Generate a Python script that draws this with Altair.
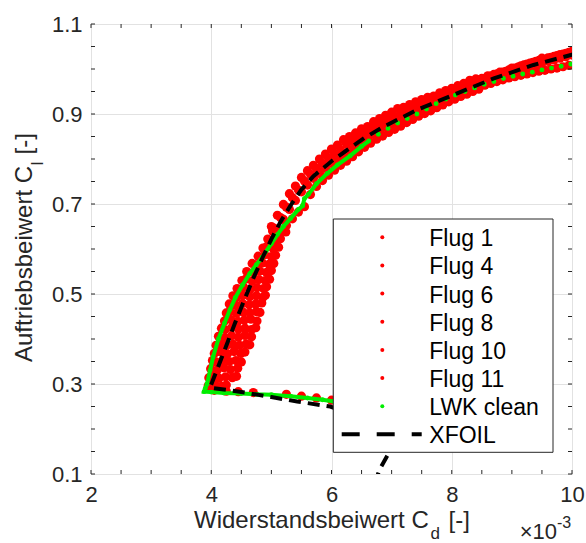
import altair as alt
import pandas as pd

# ---------------- data ----------------
x_major = [2, 4, 6, 8, 10]
y_major = [0.1, 0.3, 0.5, 0.7, 0.9, 1.1]
x_minor = [2.0, 2.5, 3.0, 3.5, 4.0, 4.5, 5.0, 5.5, 6.0, 6.5, 7.0, 7.5, 8.0, 8.5, 9.0, 9.5, 10.0]
y_minor = [0.10, 0.15, 0.20, 0.25, 0.30, 0.35, 0.40, 0.45, 0.50, 0.55, 0.60, 0.65, 0.70,
           0.75, 0.80, 0.85, 0.90, 0.95, 1.00, 1.05, 1.10]

legend_labels = ["Flug 1", "Flug 4", "Flug 6", "Flug 8", "Flug 10", "Flug 11", "LWK clean", "XFOIL"]

xfoil_cd = [10.05, 9.98, 9.36, 8.70, 8.09, 7.42, 6.87, 6.55, 6.26, 6.00, 5.70, 5.50, 5.32, 5.15, 5.00,
            4.85, 4.70, 4.55, 4.40, 4.25, 4.10, 3.98,
            4.30, 4.65, 5.00, 5.43, 5.98, 6.50, 7.05, 6.95, 6.80, 6.72]
xfoil_cl = [1.034, 1.031, 1.009, 0.979, 0.946, 0.909, 0.872, 0.847, 0.820, 0.795, 0.762, 0.732, 0.697, 0.660, 0.622,
            0.580, 0.535, 0.487, 0.437, 0.385, 0.333, 0.292,
            0.286, 0.279, 0.271, 0.261, 0.250, 0.225, 0.180, 0.146, 0.110, 0.080]

lwk_cd = [9.98, 9.82, 9.66, 9.50, 9.34, 9.18, 9.02, 8.86, 8.70, 8.54, 8.38, 8.22, 8.06, 7.90, 7.74, 7.58,
          7.42, 7.26, 7.10, 6.94, 6.78,
          6.62, 6.50, 6.31, 6.10, 5.93, 5.75, 5.62, 5.55, 5.52, 5.45, 5.32, 5.20, 5.10, 5.00, 4.85, 4.75,
          4.64, 4.52, 4.40, 4.31, 4.22, 4.12, 4.03, 3.98, 3.93, 3.90, 3.88,
          4.00, 4.21, 4.50, 4.76, 5.00, 5.32, 5.60, 5.85, 6.04, 6.30, 6.60]
lwk_cl = [1.011, 1.006, 1.002, 0.998, 0.993, 0.989, 0.984, 0.979, 0.972, 0.966, 0.958, 0.950, 0.942, 0.933,
          0.923, 0.911, 0.900, 0.890, 0.880, 0.868, 0.855,
          0.840, 0.828, 0.807, 0.787, 0.768, 0.745, 0.722, 0.712, 0.696, 0.688, 0.668, 0.650, 0.632, 0.612,
          0.582, 0.565, 0.545, 0.520, 0.492, 0.465, 0.435, 0.400, 0.360, 0.330, 0.300, 0.290, 0.283,
          0.282, 0.280, 0.279, 0.277, 0.276, 0.273, 0.269, 0.265, 0.261, 0.255, 0.248]

flug1_cd = [5.0, 5.1, 5.2, 5.3, 5.4, 5.5, 5.6, 5.7, 5.8, 5.9, 6.0, 6.1, 6.2, 6.3, 6.4, 6.5, 6.6, 6.7, 6.8,
            6.9, 7.0, 7.1, 7.2, 7.3, 7.4, 7.5, 7.6, 7.7, 7.8, 7.9, 8.0, 8.1, 8.2, 8.3, 8.4, 8.5, 8.6, 8.7,
            8.8, 8.9, 9.0, 9.1, 9.2, 9.3, 9.4, 9.5, 9.6, 9.7, 9.8, 9.9, 10.0]
flug1_cl = [0.650, 0.675, 0.699, 0.723, 0.740, 0.759, 0.774, 0.786, 0.800, 0.811, 0.822, 0.831, 0.843,
            0.850, 0.858, 0.867, 0.872, 0.883, 0.890, 0.897, 0.904, 0.912, 0.915, 0.921, 0.927, 0.932,
            0.937, 0.940, 0.947, 0.952, 0.957, 0.963, 0.968, 0.975, 0.978, 0.979, 0.985, 0.988, 0.993,
            0.995, 1.002, 1.004, 1.009, 1.013, 1.017, 1.024, 1.025, 1.028, 1.032, 1.035, 1.039]

flug4_cd = [5.05, 5.15, 5.25, 5.35, 5.45, 5.55, 5.65, 5.75, 5.85, 5.95, 6.05, 6.15, 6.25, 6.35, 6.45,
            6.55, 6.65, 6.75, 6.85, 6.95, 7.05, 7.15, 7.25, 7.35, 7.45, 7.55, 7.65, 7.75, 7.85, 7.95,
            8.05, 8.15, 8.25, 8.35, 8.45, 8.55, 8.65, 8.75, 8.85, 8.95, 9.05, 9.15, 9.25, 9.35, 9.45,
            9.55, 9.65, 9.75, 9.85, 9.95]
flug4_cl = [0.646, 0.670, 0.693, 0.714, 0.731, 0.751, 0.766, 0.779, 0.790, 0.801, 0.811, 0.820, 0.833,
            0.839, 0.848, 0.857, 0.865, 0.873, 0.881, 0.888, 0.894, 0.900, 0.907, 0.911, 0.920, 0.925,
            0.930, 0.936, 0.941, 0.946, 0.952, 0.957, 0.962, 0.968, 0.976, 0.979, 0.984, 0.989, 0.993,
            0.998, 1.002, 1.007, 1.011, 1.015, 1.019, 1.021, 1.026, 1.030, 1.033, 1.037]

flug6_cd = [5.0, 5.1, 5.2, 5.3, 5.4, 5.5, 5.6, 5.7, 5.8, 5.9, 6.0, 6.1, 6.2, 6.3, 6.4, 6.5, 6.6, 6.7, 6.8,
            6.9, 7.0, 7.1, 7.2, 7.3, 7.4, 7.5, 7.6, 7.7, 7.8, 7.9, 8.0, 8.1, 8.2, 8.3, 8.4, 8.5, 8.6, 8.7,
            8.8, 8.9, 9.0, 9.1, 9.2, 9.3, 9.4, 9.5, 9.6, 9.7, 9.8, 9.9, 10.0]
flug6_cl = [0.617, 0.642, 0.666, 0.688, 0.708, 0.727, 0.742, 0.757, 0.768, 0.779, 0.790, 0.800, 0.809,
            0.819, 0.828, 0.837, 0.846, 0.855, 0.863, 0.870, 0.877, 0.883, 0.890, 0.897, 0.905, 0.910,
            0.916, 0.921, 0.927, 0.933, 0.939, 0.945, 0.950, 0.955, 0.961, 0.966, 0.972, 0.977, 0.983,
            0.987, 0.992, 0.996, 1.001, 1.005, 1.009, 1.013, 1.017, 1.020, 1.024, 1.027, 1.031]

flug8_cd = [5.05, 5.15, 5.25, 5.35, 5.45, 5.55, 5.65, 5.75, 5.85, 5.95, 6.05, 6.15, 6.25, 6.35, 6.45,
            6.55, 6.65, 6.75, 6.85, 6.95, 7.05, 7.15, 7.25, 7.35, 7.45, 7.55, 7.65, 7.75, 7.85, 7.95,
            8.05, 8.15, 8.25, 8.35, 8.45, 8.55, 8.65, 8.75, 8.85, 8.95, 9.05, 9.15, 9.25, 9.35, 9.45,
            9.55, 9.65, 9.75, 9.85, 9.95]
flug8_cl = [0.612, 0.635, 0.652, 0.667, 0.682, 0.694, 0.721, 0.739, 0.752, 0.764, 0.775, 0.786, 0.795,
            0.805, 0.816, 0.826, 0.835, 0.844, 0.851, 0.859, 0.866, 0.873, 0.881, 0.888, 0.895, 0.901,
            0.907, 0.914, 0.920, 0.927, 0.933, 0.939, 0.944, 0.950, 0.955, 0.964, 0.968, 0.972, 0.976,
            0.980, 0.983, 0.986, 0.989, 0.992, 0.995, 0.997, 1.000, 1.002, 1.005, 1.008]

flug10_cd = [3.95, 4.06, 4.17, 4.25,
             3.99, 4.10, 4.21, 4.32, 4.44,
             4.05, 4.16, 4.27, 4.38, 4.49, 4.56,
             4.12, 4.23, 4.34, 4.45, 4.56, 4.67,
             4.22, 4.33, 4.44, 4.55, 4.66, 4.76,
             4.30, 4.41, 4.52, 4.63, 4.74, 4.84,
             4.43, 4.54, 4.65, 4.76, 4.87, 4.92,
             4.59, 4.70, 4.81, 4.92, 5.00,
             4.78, 4.89, 5.00, 5.07,
             4.94, 5.05, 5.15]
flug10_cl = [0.296, 0.299, 0.295, 0.298,
             0.334, 0.331, 0.336, 0.332, 0.335,
             0.368, 0.371, 0.367, 0.372, 0.368, 0.371,
             0.406, 0.403, 0.407, 0.404, 0.408, 0.405,
             0.440, 0.443, 0.439, 0.442, 0.444, 0.440,
             0.478, 0.475, 0.479, 0.476, 0.478, 0.480,
             0.512, 0.515, 0.511, 0.514, 0.512, 0.516,
             0.550, 0.547, 0.551, 0.548, 0.552,
             0.584, 0.587, 0.583, 0.586,
             0.622, 0.619, 0.623]

flug11_cd = [3.96, 4.02, 4.13, 4.24, 4.35, 4.42,
             4.02, 4.08, 4.19, 4.30, 4.41, 4.50,
             4.08, 4.14, 4.25, 4.36, 4.47, 4.58, 4.64,
             4.17, 4.23, 4.34, 4.45, 4.56, 4.67, 4.74,
             4.25, 4.31, 4.42, 4.53, 4.64, 4.75, 4.81,
             4.36, 4.42, 4.53, 4.64, 4.75, 4.86, 4.90,
             4.51, 4.57, 4.68, 4.79, 4.90, 4.97,
             4.68, 4.74, 4.85, 4.96, 5.04,
             4.86, 4.92, 5.03, 5.12,
             5.02, 5.08, 5.18, 5.24,
             4.05, 4.25, 4.45, 4.70, 5.25, 5.50, 5.75, 6.00]
flug11_cl = [0.314, 0.317, 0.313, 0.316, 0.314, 0.317,
             0.352, 0.349, 0.353, 0.350, 0.352, 0.349,
             0.386, 0.389, 0.385, 0.388, 0.386, 0.389, 0.387,
             0.424, 0.421, 0.425, 0.422, 0.424, 0.421, 0.425,
             0.458, 0.461, 0.457, 0.460, 0.458, 0.461, 0.459,
             0.496, 0.493, 0.497, 0.494, 0.496, 0.493, 0.497,
             0.530, 0.533, 0.529, 0.532, 0.530, 0.533,
             0.568, 0.565, 0.569, 0.566, 0.568,
             0.602, 0.605, 0.601, 0.604,
             0.640, 0.637, 0.641, 0.638,
             0.286, 0.284, 0.283, 0.281, 0.277, 0.273, 0.269, 0.264]

# ---------------- tables ----------------
flights = [("Flug 1", flug1_cd, flug1_cl), ("Flug 4", flug4_cd, flug4_cl),
           ("Flug 6", flug6_cd, flug6_cl), ("Flug 8", flug8_cd, flug8_cl),
           ("Flug 10", flug10_cd, flug10_cl), ("Flug 11", flug11_cd, flug11_cl)]
red_df = pd.concat([pd.DataFrame({"cd": cd, "cl": cl, "serie": name}) for name, cd, cl in flights],
                   ignore_index=True)
lwk_df = pd.DataFrame({"cd": lwk_cd, "cl": lwk_cl, "idx": list(range(len(lwk_cd)))})
xfoil_df = pd.DataFrame({"cd": xfoil_cd, "cl": xfoil_cl, "idx": list(range(len(xfoil_cd)))})
xt_df = pd.DataFrame({"cd": x_minor})
yt_df = pd.DataFrame({"cl": y_minor})
leg_df = pd.DataFrame({"label": legend_labels, "i": list(range(len(legend_labels)))})

# ---------------- styling ----------------
W, H = 481, 450
FONT = "Liberation Sans"
AX = "#262626"
RED = "#ff0000"
GREEN = "#00ee00"

xs = alt.Scale(domain=[2, 10], nice=False, zero=False)
ys = alt.Scale(domain=[0.1, 1.1], nice=False, zero=False)

x_axis = alt.Axis(values=x_major, title=None, grid=True, gridColor="#e2e2e2", gridWidth=1,
                  ticks=False, tickSize=0, domain=False, labelFont=FONT, labelFontSize=22,
                  labelColor=AX, labelPadding=10, labelFlush=False, labelOverlap=False, format="d")
y_axis = alt.Axis(values=y_major, title=None, grid=True, gridColor="#e2e2e2", gridWidth=1,
                  ticks=False, tickSize=0, domain=False, labelFont=FONT, labelFontSize=22,
                  labelColor=AX, labelPadding=9, labelFlush=False, labelOverlap=False, format=".1f")

X = alt.X("cd:Q", scale=xs, axis=x_axis)
Y = alt.Y("cl:Q", scale=ys, axis=y_axis)

red = alt.Chart(red_df).mark_circle(size=85, color=RED, opacity=1, clip=True).encode(
    x=X, y=Y, detail="serie:N")

green_line = alt.Chart(lwk_df).transform_filter("datum.cd < 6.75").mark_line(
    color=GREEN, strokeWidth=4, clip=True).encode(x=X, y=Y, order=alt.Order("idx:Q"))
green_pts = alt.Chart(lwk_df).mark_circle(size=24, color=GREEN, opacity=1, clip=True).encode(x=X, y=Y)

xfoil = alt.Chart(xfoil_df).mark_line(color="black", strokeWidth=4, strokeDash=[12, 7],
                                      strokeCap="butt", clip=True).encode(
    x=X, y=Y, order=alt.Order("idx:Q"))

tick_style = dict(color=AX, strokeWidth=1)
t_bottom = alt.Chart(xt_df).mark_rule(**tick_style).encode(x=X, y=alt.value(H), y2=alt.value(H - 4))
t_top = alt.Chart(xt_df).mark_rule(**tick_style).encode(x=X, y=alt.value(0), y2=alt.value(4))
t_left = alt.Chart(yt_df).mark_rule(**tick_style).encode(y=Y, x=alt.value(0), x2=alt.value(4))
t_right = alt.Chart(yt_df).mark_rule(**tick_style).encode(y=Y, x=alt.value(W), x2=alt.value(W - 4))

# ---------------- legend (drawn inside the axes, as in the original) ----------------
LX0, LX1, LY0, LY1 = 242.3, 462.0, 195.0, 428.3
ROW0, STEP = 213.3, 28.15
leg_box = alt.Chart(leg_df.head(1)).mark_rect(fill="white", stroke=AX, strokeWidth=1).encode(
    x=alt.value(LX0), x2=alt.value(LX1), y=alt.value(LY0), y2=alt.value(LY1))

legend_layers = [leg_box]
for i, lab in enumerate(legend_labels):
    row = leg_df[leg_df["label"] == lab]
    legend_layers.append(
        alt.Chart(row).mark_text(font=FONT, fontSize=23, color="black", align="left",
                                 baseline="middle").encode(
            text="label:N", x=alt.value(338.3), y=alt.value(ROW0 + 2 + STEP * i)))
    if lab == "XFOIL":
        legend_layers.append(
            alt.Chart(row).mark_rule(color="black", strokeWidth=4, strokeDash=[18, 17],
                                     strokeCap="butt").encode(
                x=alt.value(250.7), x2=alt.value(330.7), y=alt.value(ROW0 + STEP * i)))
    else:
        col = GREEN if lab == "LWK clean" else RED
        legend_layers.append(
            alt.Chart(row).mark_circle(size=16, color=col, opacity=1).encode(
                x=alt.value(291.3), y=alt.value(ROW0 + STEP * i)))

# ---------------- axis titles (with sub/superscripts) ----------------
def txt(s, x, y, size, angle=0, align="left", baseline="alphabetic"):
    kw = dict(font=FONT, fontSize=size, color=AX, align=align, baseline=baseline)
    if angle:
        kw["angle"] = angle
    return alt.Chart(pd.DataFrame({"s": [s]})).mark_text(**kw).encode(
        text="s:N", x=alt.value(x), y=alt.value(y))

titles = [
    txt("Widerstandsbeiwert C", 103, 504, 24),
    txt("d", 339.5, 515, 17),
    txt("[-]", 357.5, 504, 24),
    txt("Auftriebsbeiwert C", -58.8, 338, 24, angle=270),
    txt("l", -47.8, 141.5, 17, angle=270),
    txt("[-]", -58.8, 130.5, 24, angle=270),
    txt("\u00d710", 466, 515, 22, align="right"),
    txt("-3", 466, 504, 16),
]

chart = alt.layer(
    red, green_line, green_pts, xfoil, t_bottom, t_top, t_left, t_right,
    *legend_layers, *titles
).properties(
    width=W, height=H,
    autosize=alt.AutoSizeParams(type="none"),
    padding={"left": 91, "top": 24, "right": 14, "bottom": 69},
).configure_view(stroke=AX, strokeWidth=1).configure(font=FONT)

chart.save("out.html", embed_options={"renderer": "svg", "actions": False})
